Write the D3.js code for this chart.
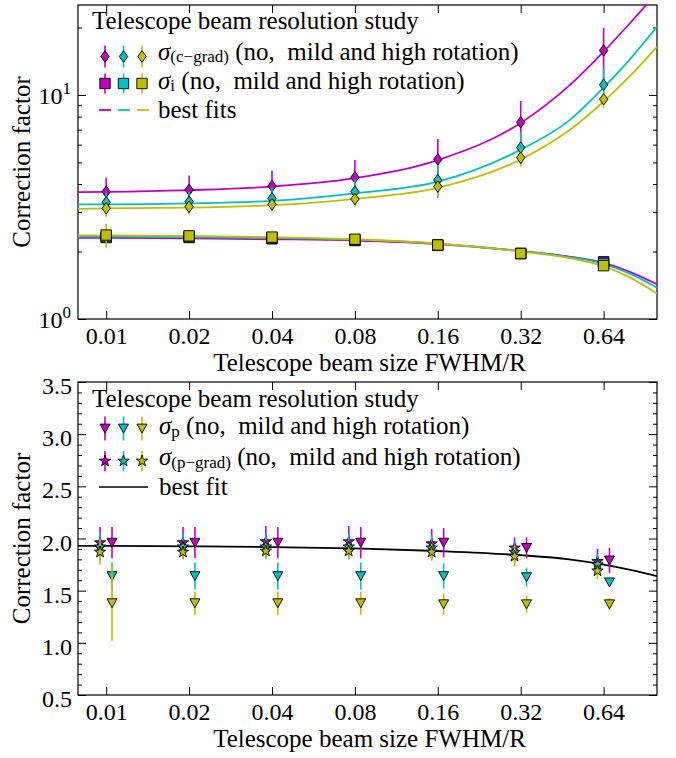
<!DOCTYPE html>
<html><head><meta charset="utf-8">
<script src="https://cdn.jsdelivr.net/npm/d3@7"></script>
<style>
body{margin:0;background:#fff}
svg text{font-family:"Liberation Serif","Times New Roman",serif;fill:#000}
</style>
</head><body>
<svg id="chart" width="676" height="758"></svg>
<script>
// ---------- data ----------
const beamSizes = [0.01, 0.02, 0.04, 0.08, 0.16, 0.32, 0.64];
const beamLabels = ["0.01", "0.02", "0.04", "0.08", "0.16", "0.32", "0.64"];
const seriesNames = ["no rotation", "mild rotation", "high rotation"];
const seriesColors = ["#bf00bf", "#00bfbf", "#bfbf00"];

// top panel: sigma_(c-grad) (diamonds) and sigma_i (squares)
const cgradNo   = [3.70, 3.77, 3.92, 4.29, 5.16, 7.55, 15.8];
const cgradMild = [3.32, 3.34, 3.46, 3.70, 4.17, 5.82, 11.1];
const cgradHigh = [3.12, 3.17, 3.25, 3.43, 3.90, 5.25, 9.57];
const cgradErrNo   = [0.57, 0.60, 0.67, 0.84, 1.20, 1.85, 4.1];
const cgradErrMild = [0.35, 0.37, 0.40, 0.50, 0.70, 1.00, 2.0];
const cgradErrHigh = [0.26, 0.24, 0.24, 0.25, 0.35, 0.45, 0.8];
const iNo   = [2.31, 2.31, 2.28, 2.24, 2.13, 1.96, 1.80];
const iMild = [2.33, 2.33, 2.30, 2.25, 2.14, 1.96, 1.77];
const iHigh = [2.37, 2.35, 2.32, 2.27, 2.14, 1.96, 1.73];
const iErrNo   = [0.08, 0.07, 0.07, 0.07, 0.07, 0.06, 0.06];
const iErrMild = [0.10, 0.07, 0.07, 0.07, 0.07, 0.06, 0.06];
const iErrHigh = [0.29, 0.12, 0.10, 0.10, 0.08, 0.08, 0.07];

// best-fit curves
const fitX = [0.0079, 0.01, 0.02, 0.04, 0.08, 0.16, 0.32, 0.48, 0.64, 0.8, 1.0];
const cgradFitNo   = [3.68, 3.69, 3.76, 3.90, 4.25, 5.12, 7.50, 11.0, 15.6, 21.0, 28.6];
const cgradFitMild = [3.25, 3.25, 3.28, 3.37, 3.64, 4.10, 5.70, 7.70, 10.8, 14.5, 20.2];
const cgradFitHigh = [3.10, 3.12, 3.14, 3.22, 3.44, 3.85, 5.15, 6.95, 9.35, 12.2, 16.4];
const iFitNo   = [2.30, 2.30, 2.29, 2.27, 2.24, 2.16, 2.01, 1.90, 1.78, 1.62, 1.43];
const iFitMild = [2.33, 2.33, 2.32, 2.30, 2.26, 2.17, 2.01, 1.89, 1.76, 1.59, 1.38];
const iFitHigh = [2.36, 2.36, 2.35, 2.32, 2.27, 2.17, 2.00, 1.87, 1.72, 1.53, 1.30];

// bottom panel: sigma_p (triangles) and sigma_(p-grad) (stars)
const pNo   = [1.96, 1.96, 1.96, 1.96, 1.96, 1.91, 1.79];
const pMild = [1.64, 1.64, 1.64, 1.64, 1.64, 1.63, 1.58];
const pHigh = [1.38, 1.38, 1.38, 1.38, 1.37, 1.37, 1.37];
const pErrNo   = [0.15, 0.15, 0.15, 0.15, 0.14, 0.10, 0.12];
const pErrMild = [0.13, 0.13, 0.13, 0.13, 0.12, 0.09, 0.02];
const pErrHigh = [0.36, 0.11, 0.11, 0.11, 0.10, 0.08, 0.06];
const pgNo   = [1.96, 1.96, 1.97, 1.97, 1.95, 1.91, 1.78];
const pgMild = [1.92, 1.92, 1.92, 1.92, 1.91, 1.87, 1.75];
const pgHigh = [1.87, 1.87, 1.88, 1.88, 1.87, 1.83, 1.69];
const pgErrNo   = [0.15, 0.15, 0.15, 0.15, 0.14, 0.10, 0.12];
const pgErrMild = [0.13, 0.12, 0.12, 0.12, 0.12, 0.10, 0.10];
const pgErrHigh = [0.12, 0.07, 0.07, 0.07, 0.08, 0.10, 0.08];
const pFit = [1.93, 1.93, 1.925, 1.918, 1.905, 1.88, 1.84, 1.80, 1.75, 1.70, 1.64];

const topYMajor = [1, 10];
const topYMinor = [2, 3, 4, 5, 6, 7, 8, 9, 20];
const botYMajor = [0.5, 1.0, 1.5, 2.0, 2.5, 3.0, 3.5];
const botYMinor = d3.range(6, 35).map(v => v / 10).filter(v => Math.abs(v * 2 - Math.round(v * 2)) > 1e-6);

// ---------- layout ----------
const svg = d3.select("#chart");
const L = 78, R = 657;
const top1 = 5, bot1 = 319, top2 = 382, bot2 = 695;
const FS = 25, TFS = 24, SUB = 17;

const x = d3.scaleLog().base(2).domain([0.0079, 1.0]).range([L, R]);
const yTop = d3.scaleLog().domain([1, 25.2]).range([bot1, top1]);
const yBot = d3.scaleLinear().domain([0.5, 3.5]).range([bot2, top2]);

const defs = svg.append("defs");
defs.append("clipPath").attr("id", "clipTop").append("rect")
  .attr("x", L).attr("y", top1).attr("width", R - L).attr("height", bot1 - top1);
defs.append("clipPath").attr("id", "clipBot").append("rect")
  .attr("x", L).attr("y", top2).attr("width", R - L).attr("height", bot2 - top2);

// marker shapes
const diamondPath = "M0,-5.8L4.2,0L0,5.8L-4.2,0Z";
const squarePath = "M-5.2,-5.2H5.2V5.2H-5.2Z";
const triPath = "M0,4.6L-5,-4.4L5,-4.4Z";
const starPath = d3.symbol(d3.symbolStar, 40)();

function axes(g, y, top, bot, yMajor, yMinor) {
  const fix = sel => { sel.select(".domain").remove(); sel.attr("font-family", null).attr("font-size", null);
    sel.selectAll("line").attr("stroke", "#000").attr("stroke-width", 1); };
  g.append("g").attr("transform", `translate(0,${bot})`)
    .call(d3.axisBottom(x).tickValues(beamSizes).tickFormat((d, i) => beamLabels[i]).tickSize(-8).tickSizeOuter(0))
    .call(fix)
    .call(s => s.selectAll("text").attr("y", 25).attr("dy", null).style("font-size", TFS + "px"));
  g.append("g").attr("transform", `translate(0,${top})`)
    .call(d3.axisTop(x).tickValues(beamSizes).tickFormat("").tickSize(-8).tickSizeOuter(0)).call(fix);
  [[d3.axisLeft, L], [d3.axisRight, R]].forEach(([ax, pos]) => {
    g.append("g").attr("transform", `translate(${pos},0)`)
      .call(ax(y).tickValues(yMajor).tickFormat("").tickSize(-8).tickSizeOuter(0)).call(fix);
    g.append("g").attr("transform", `translate(${pos},0)`)
      .call(ax(y).tickValues(yMinor).tickFormat("").tickSize(-4).tickSizeOuter(0)).call(fix);
  });
  g.append("rect").attr("x", L).attr("y", top).attr("width", R - L).attr("height", bot - top)
    .attr("fill", "none").attr("stroke", "#000").attr("stroke-width", 1.2);
  g.append("text").attr("x", (L + R) / 2 + 2).attr("y", bot + 52).attr("text-anchor", "middle")
    .style("font-size", FS + "px").text("Telescope beam size FWHM/R");
  g.append("text").attr("transform", `translate(30,${(top + bot) / 2}) rotate(-90)`)
    .attr("text-anchor", "middle").style("font-size", FS + "px").text("Correction factor");
}

function errorSeries(g, xs, vals, errs, y, color, path, xfac) {
  const s = g.append("g");
  s.selectAll("line").data(vals).join("line")
    .attr("x1", (d, i) => x(xs[i] * xfac)).attr("x2", (d, i) => x(xs[i] * xfac))
    .attr("y1", (d, i) => y(d - errs[i])).attr("y2", (d, i) => y(d + errs[i]))
    .attr("stroke", color).attr("stroke-width", 1.6);
  s.selectAll("path").data(vals).join("path")
    .attr("d", path).attr("transform", (d, i) => `translate(${x(xs[i] * xfac)},${y(d)})`)
    .attr("fill", color).attr("stroke", "#000").attr("stroke-width", 0.9);
}

function fitLine(g, vals, y, color, width) {
  const line = d3.line().x(d => x(d[0])).y(d => y(d[1])).curve(d3.curveMonotoneX);
  g.append("path").datum(fitX.map((v, i) => [v, vals[i]])).attr("d", line)
    .attr("fill", "none").attr("stroke", color).attr("stroke-width", width);
}

function mathLabel(g, xPos, yBase, sub, rest, shift) {
  const t = g.append("text").attr("x", xPos).attr("y", yBase).style("font-size", FS + "px").attr("xml:space", "preserve");
  t.append("tspan").style("font-style", "italic").text("σ");
  t.append("tspan").attr("dy", shift).style("font-size", SUB + "px").text(sub);
  t.append("tspan").attr("dy", -shift).text(rest);
}

function legendMarkers(g, yc, path, barHalf) {
  const xs = [105, 123.5, 142];
  seriesColors.forEach((c, i) => {
    g.append("line").attr("x1", xs[i]).attr("x2", xs[i]).attr("y1", yc - barHalf).attr("y2", yc + barHalf)
      .attr("stroke", c).attr("stroke-width", 1.6);
    g.append("path").attr("d", path).attr("transform", `translate(${xs[i]},${yc})`)
      .attr("fill", c).attr("stroke", "#000").attr("stroke-width", 0.9);
  });
}

// ---------- top panel ----------
const gTop = svg.append("g");
axes(gTop, yTop, top1, bot1, topYMajor, topYMinor);
topYMajor.forEach((v, k) => {
  const t = gTop.append("text").attr("x", 71).attr("y", yTop(v) + 9).attr("text-anchor", "end")
    .style("font-size", TFS + "px");
  t.append("tspan").text("10");
  t.append("tspan").attr("dy", -10).style("font-size", SUB + "px").text(String(k));
});
const plotTop = gTop.append("g").attr("clip-path", "url(#clipTop)");
[cgradFitNo, cgradFitMild, cgradFitHigh].forEach((f, i) => fitLine(plotTop, f, yTop, seriesColors[i], 1.8));
[iFitNo, iFitMild, iFitHigh].forEach((f, i) => fitLine(plotTop, f, yTop, seriesColors[i], 1.8));
const cg = [[cgradNo, cgradErrNo], [cgradMild, cgradErrMild], [cgradHigh, cgradErrHigh]];
const si = [[iNo, iErrNo], [iMild, iErrMild], [iHigh, iErrHigh]];
cg.forEach(([v, e], i) => errorSeries(plotTop, beamSizes, v, e, yTop, seriesColors[i], diamondPath, 1));
si.forEach(([v, e], i) => errorSeries(plotTop, beamSizes, v, e, yTop, seriesColors[i], squarePath, 1));

// top legend
gTop.append("text").attr("x", 92).attr("y", 29).style("font-size", FS + "px").text("Telescope beam resolution study");
legendMarkers(gTop, 56.5, diamondPath, 11);
mathLabel(gTop, 158, 60, "(c\u2212grad)", " (no,\u2002mild and high rotation)", 2);
legendMarkers(gTop, 83.5, squarePath, 10);
mathLabel(gTop, 158, 89, "i", " (no,\u2002mild and high rotation)", 2);
[[99, 111], [118, 130], [137, 149]].forEach(([a, b], i) =>
  gTop.append("line").attr("x1", a).attr("x2", b).attr("y1", 110).attr("y2", 110)
    .attr("stroke", seriesColors[i]).attr("stroke-width", 1.8));
gTop.append("text").attr("x", 158).attr("y", 118).style("font-size", FS + "px").text("best fits");

// ---------- bottom panel ----------
const gBot = svg.append("g");
axes(gBot, yBot, top2, bot2, botYMajor, botYMinor);
botYMajor.forEach(v => {
  gBot.append("text").attr("x", 72).attr("y", yBot(v) + 12).attr("text-anchor", "end")
    .style("font-size", TFS + "px").text(v.toFixed(1));
});
const plotBot = gBot.append("g").attr("clip-path", "url(#clipBot)");
fitLine(plotBot, pFit, yBot, "#000", 1.8);
const pp = [[pNo, pErrNo], [pMild, pErrMild], [pHigh, pErrHigh]];
const pg = [[pgNo, pgErrNo], [pgMild, pgErrMild], [pgHigh, pgErrHigh]];
pp.forEach(([v, e], i) => errorSeries(plotBot, beamSizes, v, e, yBot, seriesColors[i], triPath, 1.05));
pg.forEach(([v, e], i) => errorSeries(plotBot, beamSizes, v, e, yBot, seriesColors[i], starPath, 0.95));

// bottom legend
gBot.append("text").attr("x", 92).attr("y", 407).style("font-size", FS + "px").text("Telescope beam resolution study");
legendMarkers(gBot, 428.5, triPath, 12);
mathLabel(gBot, 159, 434, "p", " (no,\u2002mild and high rotation)", 3);
legendMarkers(gBot, 461, starPath, 10);
mathLabel(gBot, 159, 465, "(p\u2212grad)", " (no,\u2002mild and high rotation)", 3);
gBot.append("line").attr("x1", 99).attr("x2", 148).attr("y1", 487).attr("y2", 487)
  .attr("stroke", "#000").attr("stroke-width", 1.6);
gBot.append("text").attr("x", 159).attr("y", 495).style("font-size", FS + "px").text("best fit");
</script>
</body></html>
